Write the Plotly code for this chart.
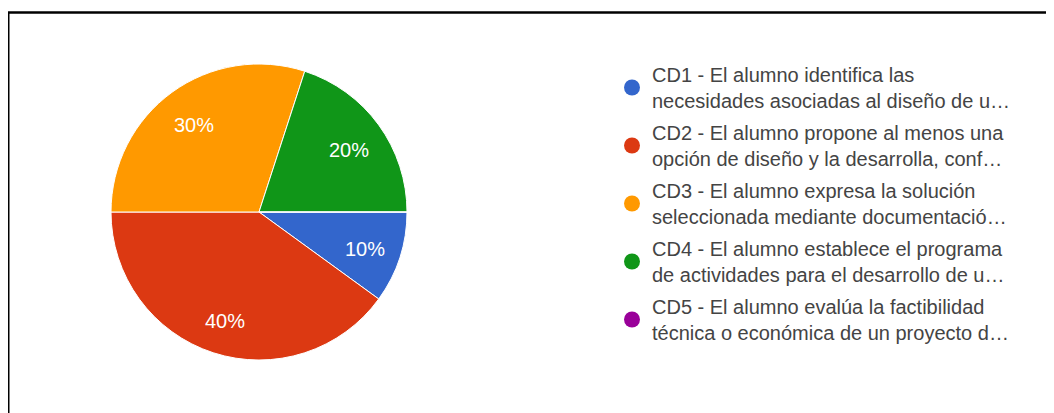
import math
import plotly.graph_objects as go

labels = [
    "CD1 - El alumno identifica las<br>necesidades asociadas al diseño de u…",
    "CD2 - El alumno propone al menos una<br>opción de diseño y la desarrolla, conf…",
    "CD3 - El alumno expresa la solución<br>seleccionada mediante documentació…",
    "CD4 - El alumno establece el programa<br>de actividades para el desarrollo de u…",
    "CD5 - El alumno evalúa la factibilidad<br>técnica o económica de un proyecto d…",
]
values = [10, 40, 30, 20, 0]
colors = ["#3366CC", "#DC3912", "#FF9900", "#109618", "#990099"]

W, H = 1054, 413
# pie geometry (figure pixels)
CX, CY, R = 251, 204, 148
START = 90  # degrees clockwise from 12 o'clock

fig = go.Figure()
fig.add_trace(go.Pie(
    labels=labels,
    values=values,
    sort=False,
    direction="clockwise",
    rotation=START,
    marker=dict(colors=colors, line=dict(color="white", width=1)),
    textinfo="none",
    showlegend=False,
    hoverinfo="label+percent",
    domain=dict(x=[(CX - R) / W, (CX + R) / W], y=[1 - (CY + R + 1) / H, 1 - (CY - R - 1) / H]),
))

# percentage labels placed along each slice bisector
total = sum(values)
annotations = []
acc = 0.0
for v in values:
    if v > 0:
        mid = math.radians(START + 360 * (acc + v / 2) / total)
        x = CX + 0.75 * R * math.sin(mid)
        y = CY - 0.75 * R * math.cos(mid) + 3
        annotations.append(dict(
            x=x / W, y=1 - y / H, xref="paper", yref="paper",
            text=f"{round(100 * v / total)}%", showarrow=False,
            xanchor="center", yanchor="middle",
            font=dict(color="white", size=20, family="Liberation Sans, Arial"),
        ))
    acc += v

for i, (lab, col) in enumerate(zip(labels, colors)):
    fig.add_trace(go.Scatter(
        x=[None], y=[None], mode="markers",
        marker=dict(color=col, size=16, symbol="circle"),
        name=lab, legendgroup=f"g{i}", showlegend=True,
    ))

fig.update_layout(
    width=W, height=H,
    margin=dict(l=0, r=0, t=0, b=0),
    paper_bgcolor="white", plot_bgcolor="white",
    xaxis=dict(visible=False), yaxis=dict(visible=False),
    annotations=annotations,
    legend=dict(
        x=604 / W, y=1 - 47 / H, xanchor="left", yanchor="top",
        font=dict(size=20, color="#444444", family="Liberation Sans, Arial"),
        traceorder="grouped", tracegroupgap=3,
        bgcolor="rgba(0,0,0,0)",
    ),
    shapes=[
        dict(type="line", xref="paper", yref="paper",
             x0=0, x1=1.02, y0=1 - 4.5 / H, y1=1 - 4.5 / H,
             line=dict(color="black", width=2.5)),
        dict(type="line", xref="paper", yref="paper",
             x0=0, x1=0, y0=1 - 4.5 / H, y1=-0.02,
             line=dict(color="black", width=3)),
    ],
)

fig.write_html("out.html")
